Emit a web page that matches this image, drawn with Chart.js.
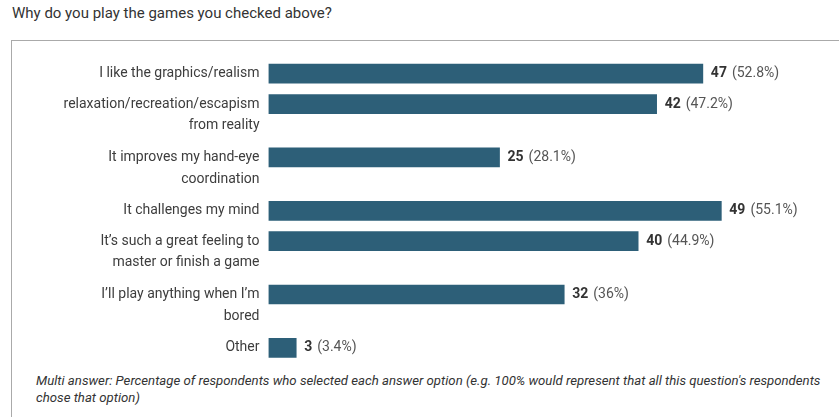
<!DOCTYPE html>
<html>
<head>
<meta charset="utf-8">
<script src="https://cdn.jsdelivr.net/npm/chart.js@4"></script>
<style>
  html, body { margin: 0; padding: 0; background: #fff; }
  body { width: 839px; height: 417px; position: relative; overflow: hidden; font-family: Roboto, "Noto Sans", sans-serif; }
  #title { position: absolute; left: 12px; top: 4px; font-size: 15px; color: #333; white-space: nowrap; }
  #box { position: absolute; left: 11px; top: 40px; width: 900px; height: 500px; border: 1px solid #aaa; }
  #note { position: absolute; left: 36px; top: 373px; font-size: 13.2px; line-height: 16.5px; font-style: italic; color: #333; white-space: nowrap; }
  #wrap { position: absolute; left: 0; top: 0; width: 839px; height: 417px; }
</style>
</head>
<body>
<div id="title">Why do you play the games you checked above?</div>
<div id="box"></div>
<div id="note">Multi answer: Percentage of respondents who selected each answer option (e.g. 100% would represent that all this question's respondents<br>chose that option)</div>
<div id="wrap"><canvas id="chart" width="839" height="417"></canvas></div>
<script>
// Categories (each entry = lines of the wrapped label)
const categories = [
    ['I like the graphics/realism'],
    ['relaxation/recreation/escapism', 'from reality'],
    ['It improves my hand-eye', 'coordination'],
    ['It challenges my mind'],
    ['It\u2019s such a great feeling to', 'master or finish a game'],
    ['I\u2019ll play anything when I\u2019m', 'bored'],
    ['Other']
];
const counts = [47, 42, 25, 49, 40, 32, 3];
const percents = ['52.8%', '47.2%', '28.1%', '55.1%', '44.9%', '36%', '3.4%'];

// Row slots: each row takes its label line count plus a small gap (in "line" units)
const ROW_GAP = 0.32;
const rowCenters = [];
let cursor = 0;
categories.forEach(lines => {
    rowCenters.push(cursor + 0.5);
    cursor += lines.length + ROW_GAP;
});
const rowMax = rowCenters[rowCenters.length - 1] + 0.5;

const BAR_COLOR = '#2d5f78';
const FONT = 'Roboto, "Noto Sans", sans-serif';

// Draws category labels left of the bars and count/percent right of them
const labelPlugin = {
    id: 'labelPlugin',
    afterDatasetsDraw(chart) {
        const ctx = chart.ctx;
        const meta = chart.getDatasetMeta(0);
        ctx.save();
        meta.data.forEach((bar, i) => {
            const y = bar.y;
            // left labels
            ctx.font = '14px ' + FONT;
            ctx.fillStyle = '#3d3d3d';
            ctx.textAlign = 'right';
            ctx.textBaseline = 'middle';
            categories[i].forEach((line, k) => {
                ctx.fillText(line, chart.chartArea.left - 9, y + k * 21.8);
            });
            // value labels
            ctx.textAlign = 'left';
            let x = bar.x + 8;
            ctx.font = 'bold 14px ' + FONT;
            ctx.fillStyle = '#333';
            ctx.fillText(String(counts[i]), x, y);
            x += ctx.measureText(String(counts[i])).width + 5;
            ctx.font = '14px ' + FONT;
            ctx.fillStyle = '#555';
            ctx.fillText('(' + percents[i] + ')', x, y);
        });
        ctx.restore();
    }
};

new Chart(document.getElementById('chart'), {
    type: 'bar',
    data: {
        datasets: [{
            data: counts.map((c, i) => ({ x: c, y: rowCenters[i] })),
            backgroundColor: BAR_COLOR,
            borderWidth: 0,
            barThickness: 19
        }]
    },
    options: {
        indexAxis: 'y',
        responsive: false,
        animation: false,
        events: [],
        layout: { padding: { left: 268.5, right: 16, top: 62.2, bottom: 57.6 } },
        plugins: { legend: { display: false }, tooltip: { enabled: false } },
        scales: {
            x: { type: 'linear', min: 0, max: 60, offset: false, display: false },
            y: { type: 'linear', reverse: true, min: 0, max: rowMax, offset: false, display: false }
        }
    },
    plugins: [labelPlugin]
});
</script>
</body>
</html>
